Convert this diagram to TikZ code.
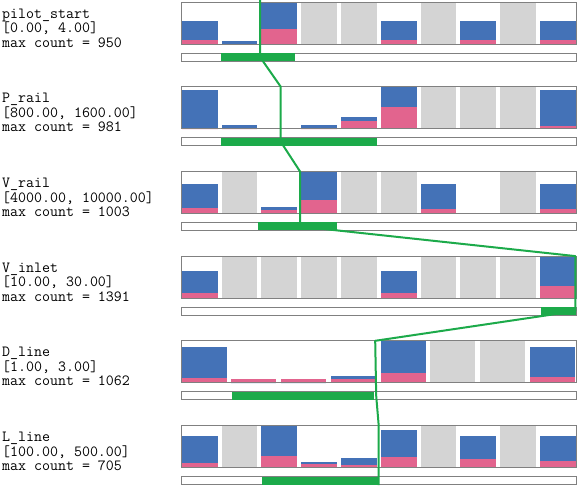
\documentclass[tikz,border=0pt]{standalone}
\usepackage{fontspec}
\definecolor{histblue}{RGB}{68,114,183}
\definecolor{histpink}{RGB}{226,100,142}
\definecolor{histgray}{RGB}{212,212,212}
\definecolor{framegray}{RGB}{128,128,128}
\definecolor{selgreen}{RGB}{28,170,74}
\tikzset{
  nodata/.style={fill=histgray},
  hall/.style={fill=histblue},
  hsel/.style={fill=histpink},
  histframe/.style={draw=framegray, line width=0.8pt},
  rangebar/.style={draw=framegray, line width=0.8pt, fill=white},
  rangesel/.style={fill=selgreen},
  selline/.style={draw=selgreen, line width=2pt, line join=round},
  varlabel/.style={font=\fontsize{15.5}{14.5}\selectfont\ttfamily, align=left, anchor=north west, inner sep=0pt}
}

\begin{document}
\begin{tikzpicture}[x=1pt,y=-1pt]
	\useasboundingbox (0,0) rectangle (579,490);
	% pilot_start
	\begin{scope}[shift={(181.7,2)}]
	\def\pitch{39.8}\def\barw{35.8}
	\node[varlabel] (lab1) at (-179.7,6.5) {pilot\_start\\{[0.00, 4.00]}\\max count = 950};
	\foreach \i in {3,4,6,8} \fill[nodata] (\i*\pitch,0) rectangle ++(\barw,42);
	\foreach \i/\b/\p in {0/23.3/4,1/3/0,2/42/15,5/23.3/4,7/23.3/4,9/23.3/4} {
		\fill[hall] (\i*\pitch,42) rectangle ++(\barw,-\b);
		\fill[hsel] (\i*\pitch,42) rectangle ++(\barw,-\p);
	}
	\draw[histframe] (0,0) rectangle (394.3,42);
	\draw[rangebar] (0,51) rectangle (394.3,59);
	\fill[rangesel] (39.3,51) rectangle (113.3,59);
	\coordinate (s1a) at (78.3,-2);
	\coordinate (s1b) at (78.3,55);
	\end{scope}
	% P_rail
	\begin{scope}[shift={(181.7,86.7)}]
	\def\pitch{39.8}\def\barw{35.8}
	\node[varlabel] (lab2) at (-179.7,6.5) {P\_rail\\{[800.00, 1600.00]}\\max count = 981};
	\foreach \i in {6,7,8} \fill[nodata] (\i*\pitch,0) rectangle ++(\barw,42);
	\foreach \i/\b/\p in {0/39/0,1/3.3/0,3/3.7/0,4/11.3/8,5/42/22,9/39/3} {
		\fill[hall] (\i*\pitch,42) rectangle ++(\barw,-\b);
		\fill[hsel] (\i*\pitch,42) rectangle ++(\barw,-\p);
	}
	\draw[histframe] (0,0) rectangle (394.3,42);
	\draw[rangebar] (0,51) rectangle (394.3,59);
	\fill[rangesel] (39.3,51) rectangle (195,59);
	\coordinate (s2a) at (99,0);
	\coordinate (s2b) at (99,55);
	\end{scope}
	% V_rail
	\begin{scope}[shift={(181.7,171.4)}]
	\def\pitch{39.8}\def\barw{35.8}
	\node[varlabel] (lab3) at (-179.7,6.5) {V\_rail\\{[4000.00, 10000.00]}\\max count = 1003};
	\foreach \i in {1,4,5,8} \fill[nodata] (\i*\pitch,0) rectangle ++(\barw,42);
	\foreach \i/\b/\p in {0/29/5.5,2/6.5/3,3/42/13,6/29/4.3,9/29/4.3} {
		\fill[hall] (\i*\pitch,42) rectangle ++(\barw,-\b);
		\fill[hsel] (\i*\pitch,42) rectangle ++(\barw,-\p);
	}
	\draw[histframe] (0,0) rectangle (394.3,42);
	\draw[rangebar] (0,51) rectangle (394.3,59);
	\fill[rangesel] (76.6,51) rectangle (155,59);
	\coordinate (s3a) at (118.3,0);
	\coordinate (s3b) at (118.3,55);
	\end{scope}
	% V_inlet
	\begin{scope}[shift={(181.7,256.1)}]
	\def\pitch{39.8}\def\barw{35.8}
	\node[varlabel] (lab4) at (-179.7,6.5) {V\_inlet\\{[10.00, 30.00]}\\max count = 1391};
	\foreach \i in {1,2,3,4,6,7,8} \fill[nodata] (\i*\pitch,0) rectangle ++(\barw,42);
	\foreach \i/\b/\p in {0/27/5.4,5/27/5.4,9/42/12.4} {
		\fill[hall] (\i*\pitch,42) rectangle ++(\barw,-\b);
		\fill[hsel] (\i*\pitch,42) rectangle ++(\barw,-\p);
	}
	\draw[histframe] (0,0) rectangle (394.3,42);
	\draw[rangebar] (0,51) rectangle (394.3,59);
	\fill[rangesel] (359.3,51) rectangle (394.3,59);
	\coordinate (s4a) at (393.6,0);
	\coordinate (s4b) at (393.6,55);
	\end{scope}
	% D_line
	\begin{scope}[shift={(181.7,340.8)}]
	\def\pitch{49.75}\def\barw{45}
	\node[varlabel] (lab5) at (-179.7,6.5) {D\_line\\{[1.00, 3.00]}\\max count = 1062};
	\foreach \i in {5,6} \fill[nodata] (\i*\pitch,0) rectangle ++(\barw,42);
	\foreach \i/\b/\p in {0/36/5,1/0/3.5,2/0/3.5,3/7/3.5,4/42/9.5,7/36/6} {
		\fill[hall] (\i*\pitch,42) rectangle ++(\barw,-\b);
		\fill[hsel] (\i*\pitch,42) rectangle ++(\barw,-\p);
	}
	\draw[histframe] (0,0) rectangle (394.3,42);
	\draw[rangebar] (0,51) rectangle (394.3,59);
	\fill[rangesel] (50.6,51) rectangle (192.6,59);
	\coordinate (s5a) at (193.5,0);
	\coordinate (s5b) at (194.5,55);
	\end{scope}
	% L_line
	\begin{scope}[shift={(181.7,425.5)}]
	\def\pitch{39.8}\def\barw{35.8}
	\node[varlabel] (lab6) at (-179.7,6.5) {L\_line\\{[100.00, 500.00]}\\max count = 705};
	\foreach \i in {1,6,8} \fill[nodata] (\i*\pitch,0) rectangle ++(\barw,42);
	\foreach \i/\b/\p in {0/32/4.2,2/42/11.5,3/5.2/3.8,4/9.2/2.5,5/37.5/10.2,7/32/8.2,9/32/6.2} {
		\fill[hall] (\i*\pitch,42) rectangle ++(\barw,-\b);
		\fill[hsel] (\i*\pitch,42) rectangle ++(\barw,-\p);
	}
	\draw[histframe] (0,0) rectangle (394.3,42);
	\draw[rangebar] (0,51) rectangle (394.3,59);
	\fill[rangesel] (80,51) rectangle (197.6,59);
	\coordinate (s6a) at (197,0);
	\coordinate (s6b) at (197,59.5);
	\end{scope}
	% selected sample
	\draw[selline] (s1a) -- (s1b) -- (s2a) -- (s2b) -- (s3a) -- (s3b) -- (s4a) -- (s4b)
		-- (s5a) -- (s5b) -- (s6a) -- (s6b);
\end{tikzpicture}
\end{document}
